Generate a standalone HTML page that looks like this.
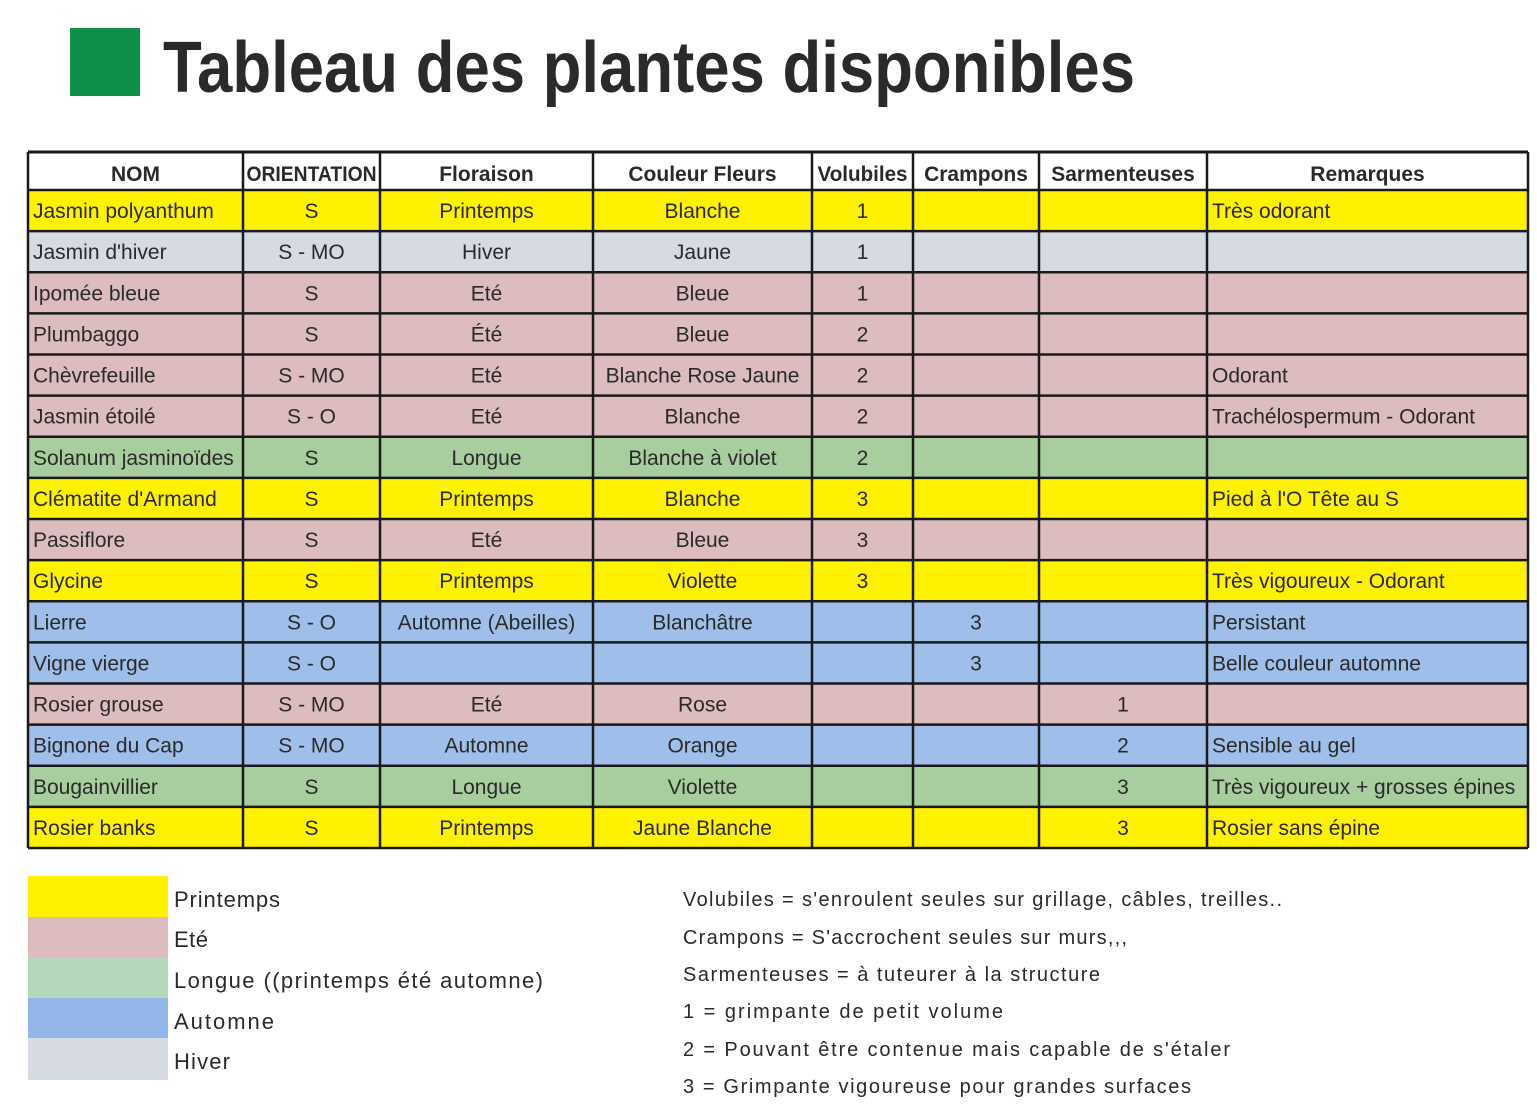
<!DOCTYPE html>
<html><head><meta charset="utf-8"><style>
html,body{margin:0;padding:0;background:#fff;}
svg{display:block;}
text{font-family:"Liberation Sans",sans-serif;fill:#2a2a2a;}
</style></head><body>
<svg width="1537" height="1120" viewBox="0 0 1537 1120" xmlns="http://www.w3.org/2000/svg">
<rect x="70" y="28" width="70" height="68" fill="#0e8f4a"/>
<text x="163" y="92" font-size="72" font-weight="bold" textLength="972" lengthAdjust="spacingAndGlyphs" fill="#2b2b2b">Tableau des plantes disponibles</text>

<g id="rows"></g>

<rect x="28" y="876" width="140" height="41" fill="#fff200"/>
<rect x="28" y="917" width="140" height="41" fill="#dcbcbe"/>
<rect x="28" y="958" width="140" height="40" fill="#b5d8bd"/>
<rect x="28" y="998" width="140" height="40" fill="#92b6e8"/>
<rect x="28" y="1038" width="140" height="42" fill="#d6dae3"/>
<g font-size="22">
<text x="174" y="907" textLength="106">Printemps</text>
<text x="174" y="947" textLength="34">Eté</text>
<text x="174" y="988" textLength="369">Longue ((printemps été automne)</text>
<text x="174" y="1029" textLength="100">Automne</text>
<text x="174" y="1069" textLength="56">Hiver</text>
</g>
<g font-size="20">
<text x="683" y="906" textLength="599">Volubiles  = s'enroulent seules sur grillage, câbles, treilles..</text>
<text x="683" y="944" textLength="444">Crampons = S'accrochent seules sur murs,,,</text>
<text x="683" y="981" textLength="417">Sarmenteuses = à tuteurer à la structure</text>
<text x="683" y="1018" textLength="320">1 = grimpante de petit volume</text>
<text x="683" y="1056" textLength="547">2 = Pouvant être contenue mais capable de s'étaler</text>
<text x="683" y="1093" textLength="508">3 = Grimpante vigoureuse pour grandes surfaces</text>
</g>
</svg>
<script>
(function(){
var Y='#fff200',P='#dcbcbe',G='#a8cd9e',B='#9fbfea',H='#d6dae3';
var rows=[
["Jasmin polyanthum","S","Printemps","Blanche","1","","","Très odorant",Y],
["Jasmin d'hiver","S - MO","Hiver","Jaune","1","","","",H],
["Ipomée bleue","S","Eté","Bleue","1","","","",P],
["Plumbaggo","S","Été","Bleue","2","","","",P],
["Chèvrefeuille","S - MO","Eté","Blanche Rose Jaune","2","","","Odorant",P],
["Jasmin étoilé","S - O","Eté","Blanche","2","","","Trachélospermum - Odorant",P],
["Solanum jasminoïdes","S","Longue","Blanche à violet","2","","","",G],
["Clématite d'Armand","S","Printemps","Blanche","3","","","Pied à l'O Tête au S",Y],
["Passiflore","S","Eté","Bleue","3","","","",P],
["Glycine","S","Printemps","Violette","3","","","Très vigoureux - Odorant",Y],
["Lierre","S - O","Automne (Abeilles)","Blanchâtre","","3","","Persistant",B],
["Vigne vierge","S - O","","","","3","","Belle couleur automne",B],
["Rosier grouse","S - MO","Eté","Rose","","","1","",P],
["Bignone du Cap","S - MO","Automne","Orange","","","2","Sensible au gel",B],
["Bougainvillier","S","Longue","Violette","","","3","Très vigoureux + grosses épines",G],
["Rosier banks","S","Printemps","Jaune Blanche","","","3","Rosier sans épine",Y]];
var cols=[28,243,380,593,812,913,1039,1207,1528];
var heads=["NOM","ORIENTATION","Floraison","Couleur Fleurs","Volubiles","Crampons","Sarmenteuses","Remarques"];
var NS="http://www.w3.org/2000/svg";
var g=document.getElementById('rows');
function el(t,a,txt){var e=document.createElementNS(NS,t);for(var k in a)e.setAttribute(k,a[k]);if(txt!==undefined)e.textContent=txt;g.appendChild(e);return e;}
var T0=190,rh=41.125;
el('rect',{x:28,y:152,width:1500,height:38,fill:'#fff'});
heads.forEach(function(h,i){
  var a={x:(cols[i]+cols[i+1])/2,y:181,'text-anchor':'middle','font-size':21,'font-weight':'bold',fill:'#222'};
  if(i==1){a.textLength=130;a.lengthAdjust='spacingAndGlyphs';}
  if(i==4){a.textLength=90;a.lengthAdjust='spacingAndGlyphs';}
  el('text',a,h);});
rows.forEach(function(r,j){
 var y=T0+j*rh;
 el('rect',{x:28,y:y,width:1500,height:rh+0.5,fill:r[8]});
 for(var i=0;i<8;i++){
  if(!r[i])continue;
  var left=(i==0||i==7);
  el('text',{x:left?cols[i]+5:(cols[i]+cols[i+1])/2,y:y+28,'text-anchor':left?'start':'middle','font-size':21,fill:'#333'},r[i]);
 }
});
for(var j=0;j<=16;j++){var y=T0+j*rh;el('line',{x1:28,x2:1528,y1:y,y2:y,stroke:'#1a1a1a','stroke-width':2.5});}
el('line',{x1:28,x2:1528,y1:152,y2:152,stroke:'#1a1a1a','stroke-width':3});
cols.forEach(function(x){el('line',{x1:x,x2:x,y1:152,y2:T0+16*rh,stroke:'#1a1a1a','stroke-width':2.5});});
})();
</script>
</body></html>
